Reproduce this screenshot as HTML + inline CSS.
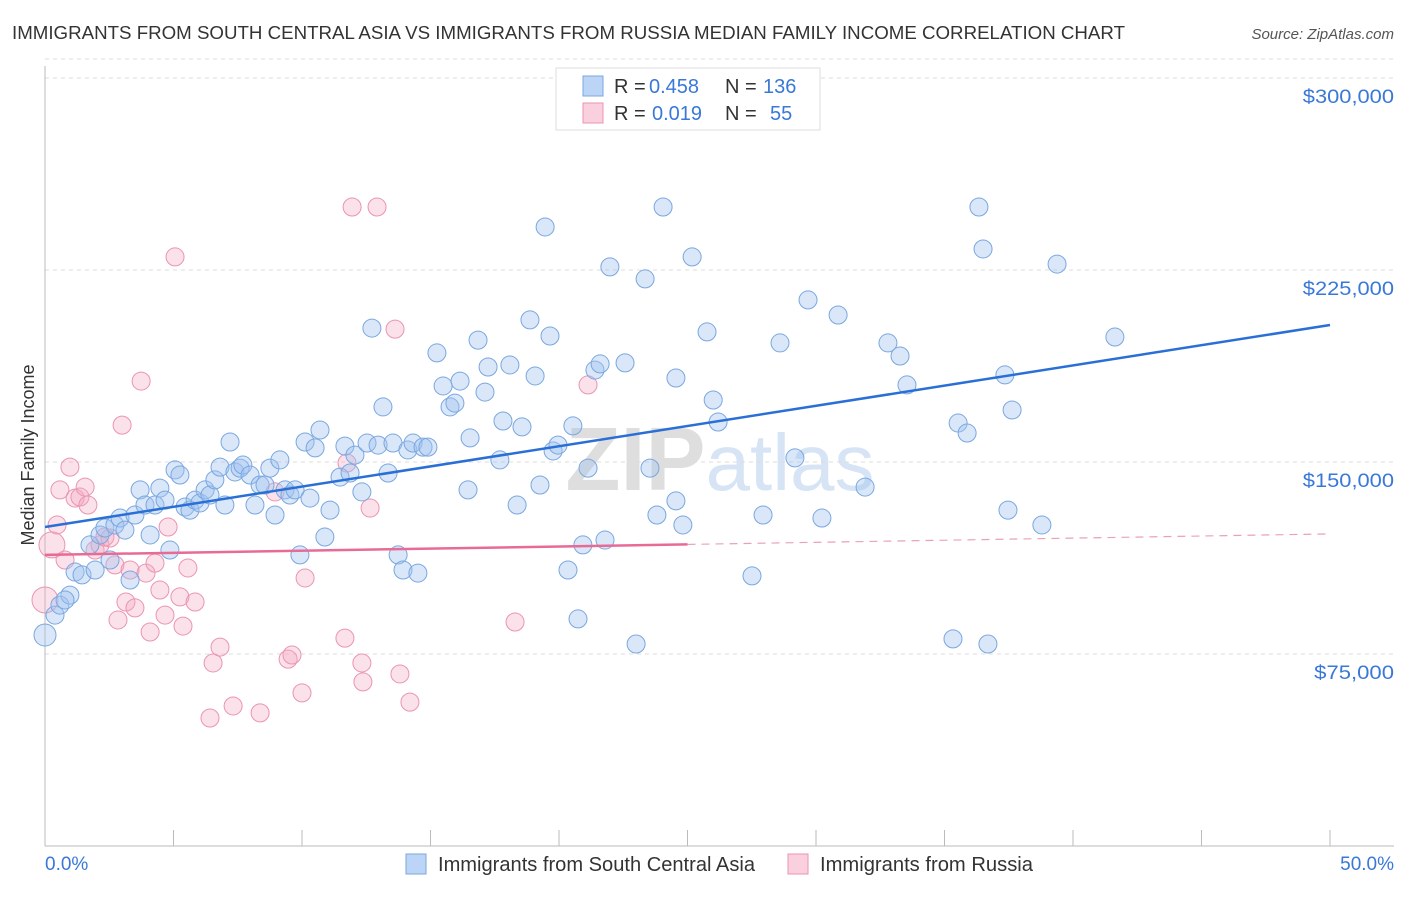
<!DOCTYPE html>
<html><head><meta charset="utf-8"><style>
body{margin:0;background:#fff;font-family:"Liberation Sans",sans-serif;}
svg text{font-family:"Liberation Sans",sans-serif;}
</style></head><body>
<svg id="chart" width="1406" height="892" viewBox="0 0 1406 892">
<text x="12" y="39" font-size="18.5" fill="#333" textLength="1113" lengthAdjust="spacingAndGlyphs">IMMIGRANTS FROM SOUTH CENTRAL ASIA VS IMMIGRANTS FROM RUSSIA MEDIAN FAMILY INCOME CORRELATION CHART</text>
<text x="1394" y="39" font-size="15" fill="#555" text-anchor="end" font-style="italic">Source: ZipAtlas.com</text>
<text x="720" y="490" font-size="90" fill="#e8e8e8" text-anchor="middle" font-family="Liberation Serif"><tspan font-weight="bold" fill="#dedede">ZIP</tspan><tspan fill="#d6e4f5" font-family="Liberation Sans" font-size="80">atlas</tspan></text>
<g id="grid"></g><g id="axes"></g><g id="pink"></g><g id="blue"></g><g id="lines"></g>
<text transform="translate(34,455) rotate(-90)" font-size="18" fill="#333" text-anchor="middle">Median Family Income</text>
<text x="45" y="870" font-size="19" fill="#3a78d8">0.0%</text>
<text x="1394" y="870" font-size="19" fill="#3a78d8" text-anchor="end">50.0%</text>
<g>
<rect x="556" y="68" width="264" height="62" fill="#fff" stroke="#ddd"/>
<rect x="583" y="76" width="20" height="20" fill="#bcd4f5" stroke="#7aa7e0"/>
<rect x="583" y="103" width="20" height="20" fill="#fbd0de" stroke="#eb94b2"/>
<text x="614" y="93" font-size="20" fill="#333">R =</text>
<text x="649" y="93" font-size="20" fill="#3a78d8">0.458</text>
<text x="725" y="93" font-size="20" fill="#333">N =</text>
<text x="763" y="93" font-size="20" fill="#3a78d8">136</text>
<text x="614" y="120" font-size="20" fill="#333">R =</text>
<text x="652" y="120" font-size="20" fill="#3a78d8">0.019</text>
<text x="725" y="120" font-size="20" fill="#333">N =</text>
<text x="770" y="120" font-size="20" fill="#3a78d8">55</text>
</g>
<g>
<rect x="406" y="854" width="20" height="20" fill="#bcd4f5" stroke="#7aa7e0"/>
<text x="438" y="871" font-size="20" fill="#333" textLength="317" lengthAdjust="spacingAndGlyphs">Immigrants from South Central Asia</text>
<rect x="788" y="854" width="20" height="20" fill="#fbd0de" stroke="#eb94b2"/>
<text x="820" y="871" font-size="20" fill="#333" textLength="213" lengthAdjust="spacingAndGlyphs">Immigrants from Russia</text>
</g>
</svg>
<script>
const yTicks=[75000,150000,225000,300000];
const yTickLabels=["$75,000","$150,000","$225,000","$300,000"];
const xTicks=[0,5,10,15,20,25,30,35,40,45,50];
const blueX=[0.0,0.39,0.58,0.97,0.78,1.17,1.44,1.75,1.95,2.14,2.33,2.53,2.72,2.92,3.11,3.31,3.50,3.70,3.89,4.09,4.28,4.47,4.67,4.86,5.06,5.25,5.45,5.64,5.84,6.03,6.23,6.42,6.61,6.81,7.00,7.20,7.39,7.59,7.70,7.98,8.17,8.37,8.56,8.75,8.95,9.14,9.34,9.53,9.73,9.92,10.12,10.31,10.51,10.70,10.89,11.09,11.48,11.67,11.87,12.06,12.33,12.53,12.72,12.96,13.15,13.35,13.54,13.74,13.93,14.12,14.32,14.51,14.71,14.90,15.25,15.49,15.76,15.95,16.15,16.46,16.54,16.85,17.12,17.24,17.70,17.82,18.09,18.37,18.56,18.87,19.07,19.26,19.46,19.65,19.77,19.96,20.35,20.54,20.74,20.93,21.13,21.40,21.60,21.79,21.98,22.57,23.00,23.35,23.54,23.81,24.05,24.55,24.55,24.82,25.18,25.76,26.00,26.19,27.51,27.94,28.60,29.18,29.69,30.23,30.86,31.91,32.80,33.27,33.54,35.33,35.53,35.88,36.34,36.50,36.69,37.35,37.47,37.63,38.79,39.38,41.63];
const blueY=[82.4,90.2,94.1,98.0,96.1,107.0,105.9,117.6,107.8,121.5,124.2,111.7,125.4,128.1,123.4,103.9,129.3,139.1,133.2,121.5,133.2,139.8,135.1,115.6,146.9,144.9,132.4,131.2,135.1,134.0,139.1,137.1,143.0,148.0,133.2,157.8,146.1,147.6,148.8,144.9,133.2,141.0,141.0,147.6,129.3,150.8,139.1,137.1,139.1,113.7,157.8,135.9,155.5,162.5,120.7,131.2,144.1,156.2,145.7,152.7,138.3,157.4,202.3,156.6,171.5,145.7,157.4,113.7,107.8,154.7,157.4,106.6,155.8,155.8,192.6,179.7,171.5,173.0,181.6,139.1,159.4,197.6,177.3,187.1,150.8,166.0,187.9,133.2,163.7,205.5,183.6,141.0,241.8,199.2,154.3,156.6,107.8,164.1,88.7,117.6,147.6,185.9,188.3,119.5,226.2,188.7,78.9,221.5,147.6,129.3,249.6,182.8,134.8,125.4,230.1,200.8,174.2,165.6,105.5,129.3,196.5,151.6,213.3,128.1,207.4,140.2,196.5,191.4,180.1,80.9,165.2,161.3,249.6,233.2,78.9,184.0,131.2,170.3,125.4,227.3,198.8];
const pinkX=[0.0,0.27,0.47,0.58,0.78,0.97,1.17,1.36,1.56,1.67,1.95,2.14,2.33,2.53,2.72,2.84,3.00,3.15,3.31,3.50,3.74,3.93,4.09,4.28,4.47,4.67,4.79,5.06,5.25,5.37,5.56,5.84,6.42,6.54,6.81,7.32,8.37,8.95,9.46,9.61,10.00,10.12,11.67,11.75,11.95,12.33,12.37,12.65,12.92,13.62,13.81,14.20,18.29,21.13];
const pinkY=[96.1,117.6,125.4,139.1,111.7,148.0,135.9,136.3,140.2,133.2,115.6,117.6,120.7,120.3,109.8,88.3,164.4,95.3,107.8,93.0,181.6,106.6,83.6,110.5,100.0,90.2,124.6,230.1,97.3,85.9,108.6,95.3,50.0,71.5,77.7,54.7,52.0,138.3,73.0,74.6,59.8,104.7,81.2,149.6,249.6,71.5,64.1,132.0,249.6,201.9,67.2,56.2,87.5,180.1];
const blueTrend=[124.6,203.5];
const pinkTrend=[113.7,121.9];
const pinkSolidEnd=25;
const NS="http://www.w3.org/2000/svg";
const X=p=>45+p*25.7;
const Y=v=>846-v/390.6;
function mk(parent,tag,attrs){const e=document.createElementNS(NS,tag);for(const k in attrs)e.setAttribute(k,attrs[k]);document.getElementById(parent).appendChild(e);return e;}
yTicks.forEach((t,i)=>{
 const g=mk('grid','line',{x1:45,x2:1394,y1:Y(t),y2:Y(t),stroke:'#ddd','stroke-dasharray':'4,4'});
 
 
 const l=mk('axes','text',{x:1394,y:Y(t)+25,'font-size':19,fill:'#3a78d8','text-anchor':'end',textLength:(yTickLabels[i].length*11.4),lengthAdjust:'spacingAndGlyphs'});
 l.textContent=yTickLabels[i];
 
 
});
const tg=mk('grid','line',{x1:45,x2:1394,y1:Y(300000)-19,y2:Y(300000)-19,stroke:'#ddd','stroke-dasharray':'4,4'});


const xa=mk('axes','line',{x1:45,x2:1394,y1:846,y2:846,stroke:'#bbb'});


const ya=mk('axes','line',{x1:45,x2:45,y1:66,y2:846,stroke:'#bbb'});


xTicks.forEach(t=>{
 const k=mk('axes','line',{x1:X(t),x2:X(t),y1:830,y2:846,stroke:'#bbb'});
 
 
});
pinkX.forEach((x,i)=>{
 const r=i<2?13:9;
 const c=mk('pink','circle',{cx:X(x),cy:Y(pinkY[i]*1000),r:r,fill:'rgba(244,170,195,0.35)',stroke:'#eb94b2','stroke-width':1});
 
 
});
blueX.forEach((x,i)=>{
 const r=i==0?11:9;
 const c=mk('blue','circle',{cx:X(x),cy:Y(blueY[i]*1000),r:r,fill:'rgba(160,196,240,0.4)',stroke:'#7aa7e0','stroke-width':1});
 
 
});
const bl=mk('lines','line',{x1:X(0),y1:Y(blueTrend[0]*1000),x2:X(50),y2:Y(blueTrend[1]*1000),stroke:'#2a6fd6','stroke-width':2.5});


const pm=pinkTrend[0]+(pinkTrend[1]-pinkTrend[0])*pinkSolidEnd/50;
const pl=mk('lines','line',{x1:X(0),y1:Y(pinkTrend[0]*1000),x2:X(pinkSolidEnd),y2:Y(pm*1000),stroke:'#e86a96','stroke-width':2.5});


const pd=mk('lines','line',{x1:X(pinkSolidEnd),y1:Y(pm*1000),x2:X(50),y2:Y(pinkTrend[1]*1000),stroke:'#eba0ba','stroke-width':1.2,'stroke-dasharray':'8,6'});


</script>
</body></html>
